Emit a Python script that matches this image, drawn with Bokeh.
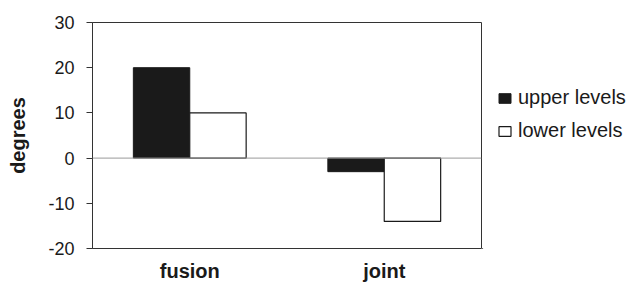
from bokeh.plotting import figure
from bokeh.layouts import row
from bokeh.models import FactorRange, Range1d, Span, Legend, LegendItem, ColumnDataSource, PrintfTickFormatter
from bokeh.transform import dodge
from bokeh.embed import file_html
from bokeh.resources import INLINE

categories = ["fusion", "joint"]
upper_levels = [20, -3]
lower_levels = [10, -14]
y_ticks = [-20, -10, 0, 10, 20, 30]
series_names = ["upper levels", "lower levels"]

FONT = "Liberation Sans"
DARK = "#1a1a1a"

src = ColumnDataSource(dict(cat=categories, upper=upper_levels, lower=lower_levels))

p = figure(x_range=FactorRange(*categories), y_range=Range1d(-20, 30),
           width=482, height=285, output_backend="svg", toolbar_location=None,
           min_border_left=92, min_border_top=22, min_border_bottom=37, min_border_right=1)

r1 = p.vbar(x=dodge("cat", -0.145, range=p.x_range), top="upper", bottom=0, width=0.29,
            source=src, fill_color=DARK, line_color=DARK, line_width=1)
r2 = p.vbar(x=dodge("cat", 0.145, range=p.x_range), top="lower", bottom=0, width=0.29,
            source=src, fill_color="white", line_color=DARK, line_width=1.2)

p.add_layout(Span(location=0, dimension="width", line_color="#999999", line_width=1), "center")

p.xgrid.visible = False
p.ygrid.visible = False
p.outline_line_color = "#333333"
p.outline_line_width = 1
p.background_fill_color = "white"
p.border_fill_color = "white"

ya = p.yaxis[0]
ya.ticker = y_ticks
ya.formatter = PrintfTickFormatter(format="%d")
ya.major_tick_in = 0
ya.major_tick_out = 6
ya.minor_tick_out = 0
ya.minor_tick_in = 0
ya.axis_line_color = "#333333"
ya.major_tick_line_color = "#333333"
ya.major_label_text_font = FONT
ya.major_label_text_font_size = "18px"
ya.major_label_text_color = DARK
ya.major_label_standoff = 12
ya.axis_label = "degrees"
ya.axis_label_text_font = FONT
ya.axis_label_text_font_size = "20px"
ya.axis_label_text_font_style = "bold"
ya.axis_label_text_color = DARK
ya.axis_label_standoff = 16

xa = p.xaxis[0]
xa.axis_line_color = None
xa.major_tick_line_color = None
xa.minor_tick_line_color = None
xa.major_tick_out = 0
xa.major_tick_in = 0
xa.major_label_text_font = FONT
xa.major_label_text_font_size = "20px"
xa.major_label_text_font_style = "bold"
xa.major_label_text_color = DARK
xa.major_label_standoff = 11

# legend panel as a separate figure; its swatch renderers use the same data
# but lie outside this panel's ranges, so only the legend is visible
p2 = figure(x_range=Range1d(1000, 1001), y_range=Range1d(1000, 1001), width=154, height=285,
            output_backend="svg", toolbar_location=None,
            min_border_left=0, min_border_right=0, min_border_top=0, min_border_bottom=0)
p2.axis.visible = False
p2.grid.visible = False
p2.outline_line_color = None
p2.background_fill_color = "white"
p2.border_fill_color = "white"
l1 = p2.vbar(x="upper", top="lower", width=0.1, source=src, fill_color=DARK, line_color=DARK)
l2 = p2.vbar(x="upper", top="lower", width=0.1, source=src, fill_color="white",
             line_color=DARK, line_width=1.2)

legend = Legend(items=[LegendItem(label=series_names[0], renderers=[l1]),
                       LegendItem(label=series_names[1], renderers=[l2])],
                location=(15, 106), orientation="vertical",
                glyph_width=15, glyph_height=12, label_standoff=6,
                label_height=20, spacing=10, padding=0, margin=0,
                border_line_color=None, background_fill_alpha=0,
                label_text_font=FONT, label_text_font_size="20px",
                label_text_color=DARK)
p2.add_layout(legend, "center")

layout = row(p, p2, spacing=0)
open("out.html", "w").write(file_html(layout, INLINE))
